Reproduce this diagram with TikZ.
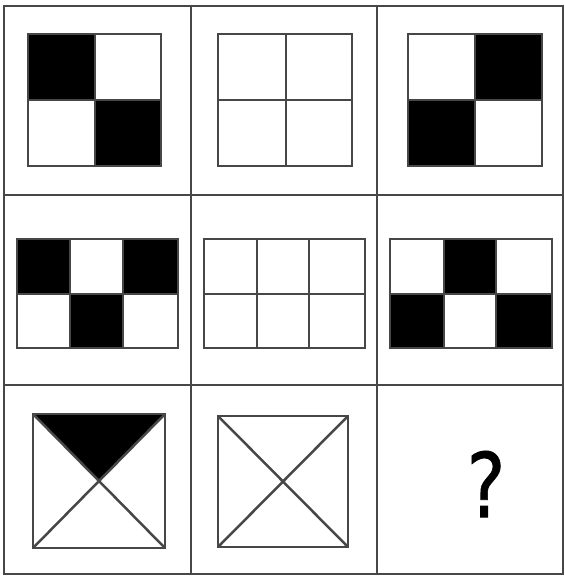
\documentclass[tikz,border=0pt]{standalone}
\usepackage{fontspec}
\setmainfont{DejaVu Sans}
\newfontfamily\qmarkfont[FakeBold=0.8]{DejaVu Sans}
\begin{document}
\begin{tikzpicture}[x=0.75pt,y=-0.75pt,
  gridline/.style={draw=black!72,line width=2.4pt*0.75},
  cellline/.style={draw=black!72,line width=2.5pt*0.75},
  blk/.style={fill=black}]
\useasboundingbox (0,0) rectangle (565,576);
\fill[white] (0,0) rectangle (565,576);
% outer grid
\draw[gridline] (4,6) rectangle (563,574);
\draw[gridline] (191,6) -- (191,574);
\draw[gridline] (377,6) -- (377,574);
\draw[gridline] (4,195) -- (563,195);
\draw[gridline] (4,385) -- (563,385);
% row 1, col 1
\fill[blk] (28,34) rectangle (95,100);
\fill[blk] (95,100) rectangle (161,166);
\draw[cellline] (28,34) rectangle (161,166);
\draw[cellline] (95,34) -- (95,166) (28,100) -- (161,100);
% row 1, col 2
\draw[cellline] (218,34) rectangle (352,166);
\draw[cellline] (286,34) -- (286,166) (218,100) -- (352,100);
% row 1, col 3
\fill[blk] (475,34) rectangle (542,100);
\fill[blk] (408,100) rectangle (475,166);
\draw[cellline] (408,34) rectangle (542,166);
\draw[cellline] (475,34) -- (475,166) (408,100) -- (542,100);
% row 2, col 1
\fill[blk] (17,239) rectangle (70,294);
\fill[blk] (123,239) rectangle (178,294);
\fill[blk] (70,294) rectangle (123,348);
\draw[cellline] (17,239) rectangle (178,348);
\draw[cellline] (70,239) -- (70,348) (123,239) -- (123,348) (17,294) -- (178,294);
% row 2, col 2
\draw[cellline] (204,239) rectangle (365,348);
\draw[cellline] (257,239) -- (257,348) (309,239) -- (309,348) (204,294) -- (365,294);
% row 2, col 3
\fill[blk] (444,239) rectangle (496,294);
\fill[blk] (390,294) rectangle (444,348);
\fill[blk] (496,294) rectangle (552,348);
\draw[cellline] (390,239) rectangle (552,348);
\draw[cellline] (444,239) -- (444,348) (496,239) -- (496,348) (390,294) -- (552,294);
% row 3, col 1
\fill[blk] (33,414) -- (165,414) -- (99,481) -- cycle;
\draw[cellline] (33,414) rectangle (165,548);
\draw[cellline] (33,414) -- (165,548) (165,414) -- (33,548);
% row 3, col 2
\draw[cellline] (218,416) rectangle (348,547);
\draw[cellline] (218,416) -- (348,547) (348,416) -- (218,547);
% row 3, col 3
\node[inner sep=0pt,xscale=0.82,font=\qmarkfont\fontsize{67}{76}\selectfont] (q) at (486,484) {?};
\end{tikzpicture}
\end{document}
